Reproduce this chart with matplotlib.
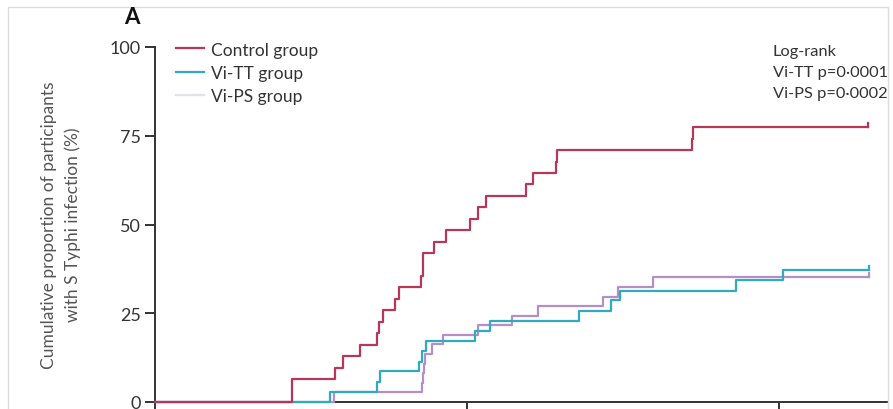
import matplotlib
matplotlib.use("Agg")
import matplotlib.pyplot as plt
from matplotlib.lines import Line2D
from matplotlib.patches import Rectangle

plt.rcParams['font.family'] = ['Lato', 'DejaVu Sans']

# Kaplan-Meier event times (days) and cumulative proportion (%)
control_t = [0, 3.07, 4.04, 4.22, 4.60, 4.98, 5.03, 5.12, 5.38, 5.47, 5.97, 6.01,
             6.26, 6.53, 7.07, 7.25, 7.43, 8.32, 8.48, 9.00, 9.02, 12.05, 12.07, 16.0]
control_y = [0, 6.5, 9.7, 12.9, 16.1, 19.4, 22.6, 25.8, 29.0, 32.3, 35.5, 41.9,
             45.2, 48.4, 51.6, 54.8, 58.1, 61.3, 64.5, 67.7, 71.0, 74.2, 77.4, 77.4]

vitt_t = [0, 3.93, 4.98, 5.05, 5.92, 5.99, 6.08, 7.18, 7.52, 9.51, 10.23, 10.43,
          13.04, 14.09, 16.02]
vitt_y = [0, 2.9, 5.7, 8.6, 11.4, 14.3, 17.1, 20.0, 22.9, 25.7, 28.6, 31.4,
          34.3, 37.1, 37.1]

vips_t = [0, 4.02, 5.99, 6.01, 6.04, 6.06, 6.21, 6.46, 7.25, 8.01, 8.60, 10.05,
          10.39, 11.17, 16.02]
vips_y = [0, 2.7, 5.4, 8.1, 10.8, 13.5, 16.2, 18.9, 21.6, 24.3, 27.0, 29.7,
          32.4, 35.1, 35.1]

series_names = ["Control group", "Vi-TT group", "Vi-PS group"]
yticks = [0, 25, 50, 75, 100]
xticks = [0, 7, 14]

c_control = "#B6365C"
c_vitt = "#2FAAC0"
c_vips = "#B48FC6"

fig = plt.figure(figsize=(8.93, 4.10), dpi=100)
fig.patch.set_facecolor("white")

# light frame
fig.patches.append(Rectangle((8/893, -0.05), (888-8)/893, 1 - 8/410 + 0.05,
                             transform=fig.transFigure, fill=False,
                             edgecolor="#DCDCDC", linewidth=1.0))

ax = fig.add_axes([155/893, 1 - 403/410, (888-155)/893, (403-48)/410])
ax.set_xlim(0, 16.45)
ax.set_ylim(0, 100)

lw = 1.6
ax.step(vips_t, vips_y, where="post", color=c_vips, lw=lw, clip_on=False, zorder=5)
ax.step(vitt_t, vitt_y, where="post", color=c_vitt, lw=lw, clip_on=False, zorder=6)
ax.step(control_t, control_y, where="post", color=c_control, lw=lw, clip_on=False, zorder=7)
# end-of-follow-up censor ticks
for t, y, c in [(control_t, control_y, c_control), (vitt_t, vitt_y, c_vitt), (vips_t, vips_y, c_vips)]:
    ax.plot([t[-1], t[-1]], [y[-1], y[-1] + 1.2], color=c, lw=lw, clip_on=False, zorder=7)

for s in ["top", "right"]:
    ax.spines[s].set_visible(False)
for s in ["left", "bottom"]:
    ax.spines[s].set_color("#333333")
    ax.spines[s].set_linewidth(1.4)

ax.set_yticks(yticks)
ax.set_yticklabels([str(v) for v in yticks])
ax.set_xticks(xticks)
ax.set_xticklabels([])
ax.tick_params(axis="both", direction="out", length=7, width=1.4, color="#333333",
               labelsize=13, labelcolor="#333333", pad=3)

fig.text(61/893, 1 - 225/410,
         "Cumulative proportion of participants\nwith S Typhi infection (%)",
         rotation=90, ha="center", va="center", multialignment="center",
         fontsize=12.5, color="#555555", linespacing=1.55)

# legend
handles = [Line2D([], [], color=c_control, lw=lw),
           Line2D([], [], color=c_vitt, lw=lw),
           Line2D([], [], color="#E4E0E8", lw=lw)]
leg = ax.legend(handles, series_names, loc="upper left", bbox_to_anchor=(0.019, 1.035),
                frameon=False, fontsize=12.5, handlelength=1.6, handletextpad=0.45,
                labelspacing=0.42, borderaxespad=0)
for t in leg.get_texts():
    t.set_color("#333333")

fig.text(773/893, 1 - 73/410, "Log-rank\nVi-TT p=0·0001\nVi-PS p=0·0002",
         ha="left", va="center", fontsize=11.8, color="#333333", linespacing=1.62)
fig.text(124/893, 1 - 18/410, "A", ha="left", va="center", fontsize=16,
         fontweight="bold", color="#111111")

fig.savefig("out.png", dpi=100)
